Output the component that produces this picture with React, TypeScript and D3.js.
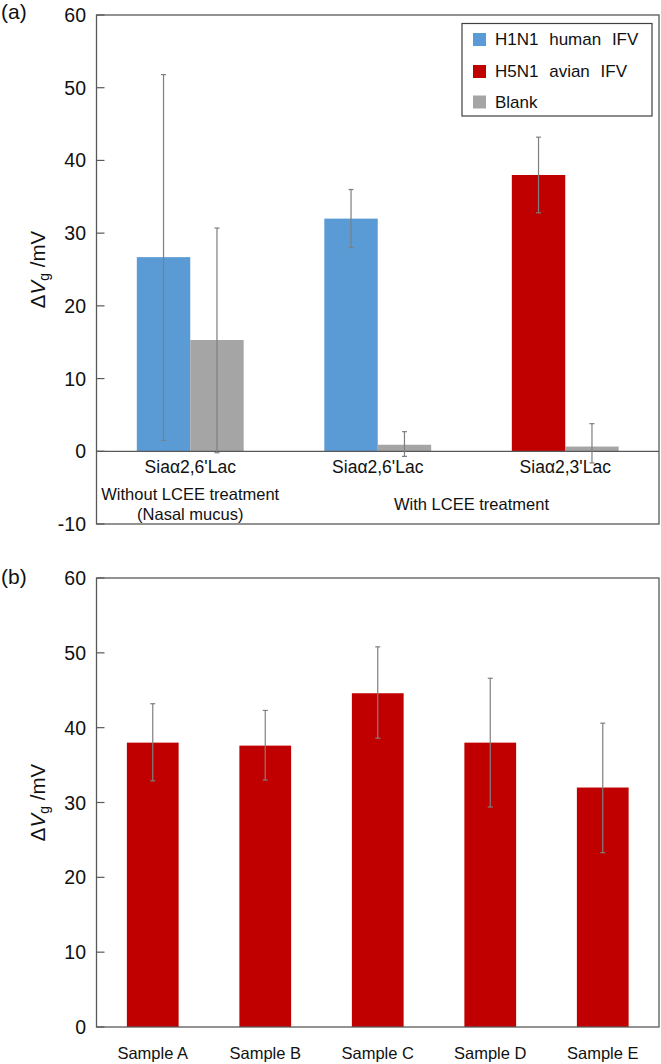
import React from 'react';
import * as d3 from 'd3';

// ---------- Data: panel (a) ----------
const catsA = ["Siaα2,6'Lac", "Siaα2,6'Lac", "Siaα2,3'Lac"];
const ifvSeriesA = ["H1N1 human IFV", "H1N1 human IFV", "H5N1 avian IFV"];
const ifvValuesA = [26.7, 32.0, 38.0];
const ifvErrHighA = [51.8, 36.0, 43.2];
const ifvErrLowA = [1.5, 28.0, 32.8];
const blankValuesA = [15.3, 0.9, 0.65];
const blankErrHighA = [30.7, 2.7, 3.8];
const blankErrLowA = [-0.2, -0.7, -1.6];
const ticksA = [-10, 0, 10, 20, 30, 40, 50, 60];
const legendNames = ["H1N1 human IFV", "H5N1 avian IFV", "Blank"];

// ---------- Data: panel (b) ----------
const catsB = ["Sample A", "Sample B", "Sample C", "Sample D", "Sample E"];
const valuesB = [38.0, 37.6, 44.6, 38.0, 32.0];
const errHighB = [43.2, 42.3, 50.8, 46.6, 40.6];
const errLowB = [32.9, 33.0, 38.6, 29.4, 23.3];
const ticksB = [0, 10, 20, 30, 40, 50, 60];

const COLORS: Record<string, string> = {
  "H1N1 human IFV": "#5B9BD5",
  "H5N1 avian IFV": "#C00000",
  "Blank": "#A5A5A5",
};

const FONT = "'Liberation Sans', Arial, sans-serif";
const AXIS = "#595959";
const ERR = "#7f7f7f";

function ErrorBar({ x, y1, y2 }: { x: number; y1: number; y2: number }) {
  return (
    <g stroke={ERR} strokeWidth={1.2}>
      <line x1={x} x2={x} y1={y1} y2={y2} />
      <line x1={x - 2.5} x2={x + 2.5} y1={y1} y2={y1} />
      <line x1={x - 2.5} x2={x + 2.5} y1={y2} y2={y2} />
    </g>
  );
}

function YTitle({ x, y }: { x: number; y: number }) {
  return (
    <text transform={`translate(${x},${y}) rotate(-90)`} textAnchor="middle" fontFamily={FONT} fontSize={20.5} fill="#111">
      <tspan>Δ</tspan>
      <tspan fontStyle="italic">V</tspan>
      <tspan fontSize={14} dy={4}>g</tspan>
      <tspan dy={-4}> /mV</tspan>
    </text>
  );
}

function YAxis({ y, ticks, x0 }: { y: d3.ScaleLinear<number, number>; ticks: number[]; x0: number }) {
  return (
    <g>
      {ticks.map((t) => (
        <g key={t}>
          <line x1={x0} x2={x0 + 8} y1={y(t)} y2={y(t)} stroke={AXIS} strokeWidth={1.2} />
          <text x={86} y={y(t)} textAnchor="end" dominantBaseline="central" fontFamily={FONT} fontSize={19.5} fill="#111">
            {t}
          </text>
        </g>
      ))}
    </g>
  );
}

export default function App() {
  const left = 96.5;
  const right = 659;

  // Panel (a)
  const yA = d3.scaleLinear().domain([-10, 60]).range([524, 15]);
  const xA = d3.scaleBand<number>().domain(catsA.map((_, i) => i)).range([left, right]).paddingInner(0.43).paddingOuter(0.215);
  const x1A = d3.scaleBand<string>().domain(["ifv", "blank"]).range([0, xA.bandwidth()]);

  // Panel (b)
  const yB = d3.scaleLinear().domain([0, 60]).range([1027, 578]);
  const xB = d3.scaleBand<number>().domain(catsB.map((_, i) => i)).range([left, right]).paddingInner(0.54).paddingOuter(0.27);

  const centerA = (i: number) => (xA(i) as number) + xA.bandwidth() / 2;

  return (
    <svg width={661} height={1064} style={{ position: 'absolute', left: 0, top: 0, background: '#fff' }}>
      <rect x={0} y={0} width={661} height={1064} fill="#fff" />

      {/* ===== Panel (a) ===== */}
      <text x={1} y={19} fontFamily={FONT} fontSize={21} fill="#111">(a)</text>
      {catsA.map((c, i) => {
        const xi = xA(i) as number;
        const bw = x1A.bandwidth();
        const xI = xi + (x1A("ifv") as number);
        const xBk = xi + (x1A("blank") as number);
        return (
          <g key={i}>
            <rect x={xI} width={bw} y={yA(ifvValuesA[i])} height={yA(0) - yA(ifvValuesA[i])} fill={COLORS[ifvSeriesA[i]]} />
            <rect x={xBk} width={bw} y={yA(blankValuesA[i])} height={yA(0) - yA(blankValuesA[i])} fill={COLORS["Blank"]} />
          </g>
        );
      })}
      {/* frame */}
      <rect x={left} y={yA(60)} width={right - left} height={yA(-10) - yA(60)} fill="none" stroke={AXIS} strokeWidth={1.3} />
      <line x1={left} x2={right} y1={yA(0)} y2={yA(0)} stroke={AXIS} strokeWidth={1.3} />
      <YAxis y={yA} ticks={ticksA} x0={left} />
      {catsA.map((c, i) => {
        const xi = xA(i) as number;
        const bw = x1A.bandwidth();
        const cI = xi + (x1A("ifv") as number) + bw / 2;
        const cB = xi + (x1A("blank") as number) + bw / 2;
        return (
          <g key={i}>
            <ErrorBar x={cI} y1={yA(ifvErrHighA[i])} y2={yA(ifvErrLowA[i])} />
            <ErrorBar x={cB} y1={yA(blankErrHighA[i])} y2={yA(blankErrLowA[i])} />
          </g>
        );
      })}
      {catsA.map((c, i) => (
        <text key={i} x={centerA(i)} y={yA(0) + 22} textAnchor="middle" fontFamily={FONT} fontSize={17.5} fill="#111">{c}</text>
      ))}
      <text x={centerA(0)} y={500} textAnchor="middle" fontFamily={FONT} fontSize={16.5} fill="#111">Without LCEE treatment</text>
      <text x={centerA(0)} y={520} textAnchor="middle" fontFamily={FONT} fontSize={16.5} fill="#111">(Nasal mucus)</text>
      <text x={(centerA(1) + centerA(2)) / 2} y={510} textAnchor="middle" fontFamily={FONT} fontSize={16.5} fill="#111">With LCEE treatment</text>
      <YTitle x={45} y={(yA(60) + yA(-10)) / 2} />

      {/* legend */}
      <rect x={462} y={23.5} width={190} height={92.5} fill="#fff" stroke="#404040" strokeWidth={1.2} />
      {legendNames.map((n, i) => {
        const cy = [39.5, 71.5, 102][i];
        return (
          <g key={n}>
            <rect x={473} y={cy - 6.5} width={13} height={13} fill={COLORS[n]} />
            <text x={495} y={cy} dominantBaseline="central" fontFamily={FONT} fontSize={17} wordSpacing={6} fill="#111">{n}</text>
          </g>
        );
      })}

      {/* ===== Panel (b) ===== */}
      <text x={1} y={584} fontFamily={FONT} fontSize={21} fill="#111">(b)</text>
      {catsB.map((c, i) => (
        <rect key={i} x={xB(i) as number} width={xB.bandwidth()} y={yB(valuesB[i])} height={yB(0) - yB(valuesB[i])} fill={COLORS["H5N1 avian IFV"]} />
      ))}
      <rect x={left} y={yB(60)} width={right - left} height={yB(0) - yB(60)} fill="none" stroke={AXIS} strokeWidth={1.3} />
      <YAxis y={yB} ticks={ticksB} x0={left} />
      {catsB.map((c, i) => (
        <ErrorBar key={i} x={(xB(i) as number) + xB.bandwidth() / 2} y1={yB(errHighB[i])} y2={yB(errLowB[i])} />
      ))}
      {catsB.map((c, i) => (
        <text key={i} x={(xB(i) as number) + xB.bandwidth() / 2} y={yB(0) + 32} textAnchor="middle" fontFamily={FONT} fontSize={16.5} fill="#111">{c}</text>
      ))}
      <YTitle x={45} y={(yB(60) + yB(0)) / 2} />
    </svg>
  );
}
